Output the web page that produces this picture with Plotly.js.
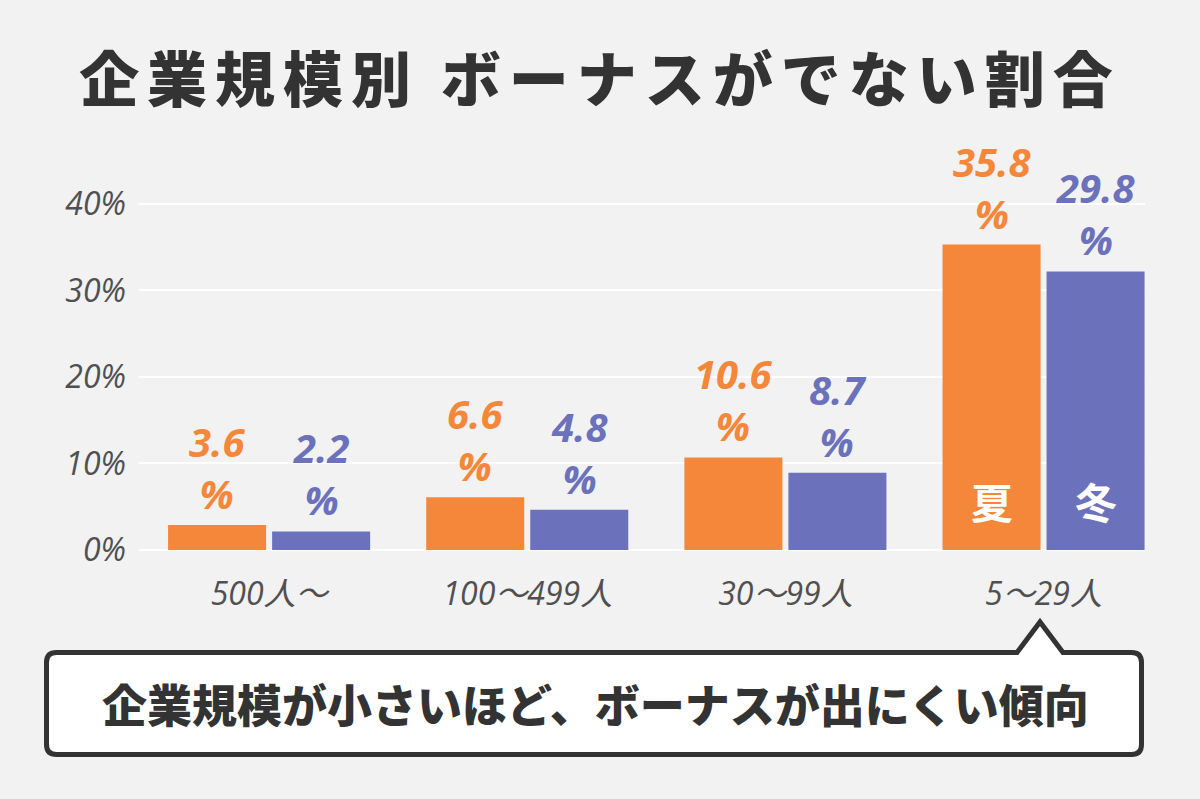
<!DOCTYPE html>
<html>
<head>
<meta charset="utf-8">
<script src="https://cdn.plot.ly/plotly-3.0.1.min.js"></script>
<style>
html,body{margin:0;padding:0;background:#f2f2f2;}
#chart{width:1200px;height:799px;}
.gtitle{letter-spacing:8px;}
</style>
</head>
<body>
<div id="chart"></div>
<script>
// ---- data ----
const categories = ['500人〜', '100〜499人', '30〜99人', '5〜29人'];
const summerBar = [2.9, 6.1, 10.7, 35.3];     // bar heights as drawn (%)
const winterBar = [2.15, 4.66, 8.94, 32.2];
const summerLabel = ['3.6', '6.6', '10.6', '35.8'];
const winterLabel = ['2.2', '4.8', '8.7', '29.8'];
const seriesNames = ['夏', '冬'];
const yTickVals = [0, 10, 20, 30, 40];
const yTickText = ['0%', '10%', '20%', '30%', '40%'];
const titleText = '企業規模別 ボーナスがでない割合';
const calloutText = '企業規模が小さいほど、ボーナスが出にくい傾向';

// ---- style ----
const ORANGE = '#F5873A';
const BLUE = '#6B72BB';
const DARK = '#333333';
const GRAY = '#505050';
const W = 1200, H = 799;
const M = {l: 139, r: 55, t: 152, b: 249};
const PW = W - M.l - M.r, PH = H - M.t - M.b;
const px = x => (x - M.l) / PW;
const py = y => (H - M.b - y) / PH;
const OFF = 0.2014; // half slot offset (category units)

const traces = [
  {type: 'bar', x: categories, y: summerBar, name: seriesNames[0],
   marker: {color: ORANGE}, hoverinfo: 'skip', cliponaxis: false},
  {type: 'bar', x: categories, y: winterBar, name: seriesNames[1],
   marker: {color: BLUE}, hoverinfo: 'skip', cliponaxis: false}
];

const labelFont = c => ({family: 'Open Sans, Noto Sans', size: 40, color: c, weight: 700, style: 'italic'});
const annotations = [];
function addLabels(vals, labels, off, color) {
  vals.forEach((v, i) => {
    annotations.push({x: i + off, y: v, xref: 'x', yref: 'y', text: labels[i] + '<br>%', showarrow: false,
      yanchor: 'bottom', yshift: 2, font: labelFont(color)});
  });
}
addLabels(summerBar, summerLabel, -OFF, ORANGE);
addLabels(winterBar, winterLabel, OFF, BLUE);
// series names inside last pair of bars
const last = categories.length - 1;
[-OFF, OFF].forEach((off, k) => {
  annotations.push({x: last + off, y: 0, xref: 'x', yref: 'y', text: seriesNames[k], showarrow: false,
    yanchor: 'bottom', yshift: 17,
    font: {family: 'Noto Sans CJK JP', size: 42, color: '#ffffff', weight: 700}});
});
// callout text
annotations.push({x: px(595), y: py(703), xref: 'paper', yref: 'paper', text: calloutText,
  showarrow: false, xanchor: 'center', yanchor: 'middle',
  font: {family: 'Noto Sans CJK JP', size: 45, color: DARK, weight: 900}});

// callout bubble path
const r = 10, L = 46.5, R = 1141.5, T = 652.5, B = 754.5;
const pts = (x, y) => px(x).toFixed(5) + ',' + py(y).toFixed(5);
const bubble = 'M' + pts(L + r, T) + ' L' + pts(1017, T) + ' L' + pts(1040, 622) + ' L' + pts(1063, T) +
  ' L' + pts(R - r, T) + ' Q' + pts(R, T) + ' ' + pts(R, T + r) +
  ' L' + pts(R, B - r) + ' Q' + pts(R, B) + ' ' + pts(R - r, B) +
  ' L' + pts(L + r, B) + ' Q' + pts(L, B) + ' ' + pts(L, B - r) +
  ' L' + pts(L, T + r) + ' Q' + pts(L, T) + ' ' + pts(L + r, T) + ' Z';

const layout = {
  width: W, height: H,
  margin: M,
  paper_bgcolor: '#f2f2f2',
  plot_bgcolor: '#f2f2f2',
  showlegend: false,
  barmode: 'group',
  bargap: 0.194,
  bargroupgap: 0.0577,
  title: {text: titleText, x: 0.5, xref: 'container', xanchor: 'center',
    y: 1 - 81 / H, yref: 'container', yanchor: 'middle',
    font: {family: 'Noto Sans CJK JP', size: 60, color: DARK, weight: 900}},
  xaxis: {type: 'category', range: [-0.504, 3.393], showgrid: false, zeroline: false,
    showline: false, ticks: '', ticklabelstandoff: 22,
    tickfont: {family: 'Open Sans, Noto Sans CJK JP', size: 32, color: GRAY, style: 'italic'}},
  yaxis: {range: [0, 46], tickvals: yTickVals, ticktext: yTickText,
    showgrid: true, gridcolor: '#ffffff', gridwidth: 2,
    zeroline: true, zerolinecolor: '#ffffff', zerolinewidth: 2,
    showline: false, ticks: '', ticklabelstandoff: 12,
    tickfont: {family: 'Open Sans', size: 32, color: GRAY, style: 'italic'}},
  shapes: [{type: 'path', xref: 'paper', yref: 'paper', path: bubble,
    fillcolor: '#ffffff', line: {color: DARK, width: 5}, layer: 'above'}],
  annotations: annotations
};

Plotly.newPlot('chart', traces, layout, {displayModeBar: false, staticPlot: true});
</script>
</body>
</html>
